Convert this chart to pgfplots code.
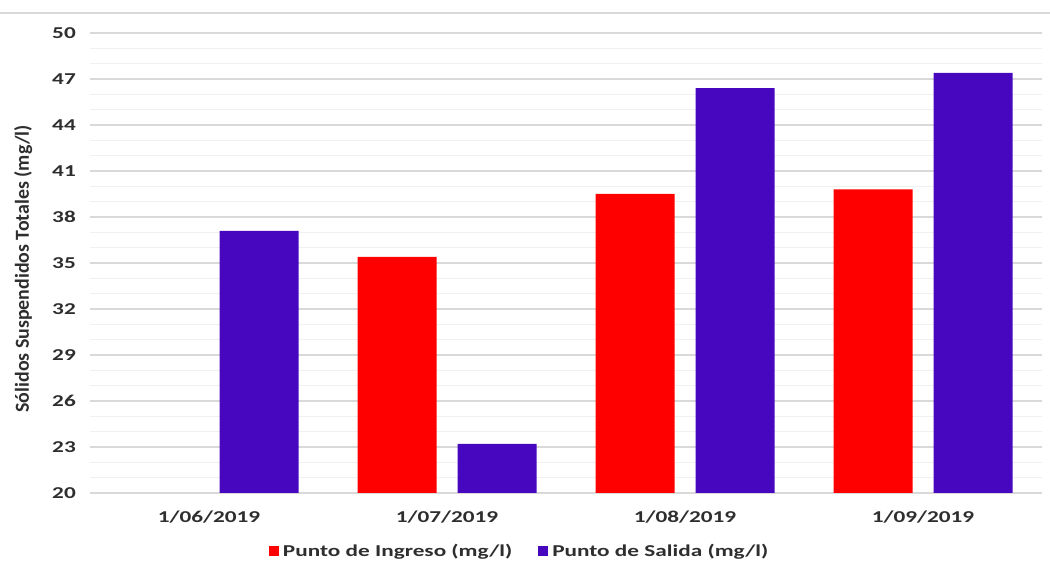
\documentclass[border=0pt]{standalone}
\usepackage{fontspec}
\setmainfont{Carlito}[FakeStretch=1.4]
\newfontfamily\ylabfont{Carlito}
\usepackage{pgfplots}
\pgfplotsset{compat=1.18}
\definecolor{ingreso}{HTML}{FF0000}
\definecolor{salida}{HTML}{4607BF}
\definecolor{txt}{HTML}{2E2E2E}
\definecolor{majgrid}{HTML}{D9D9D9}
\definecolor{mingrid}{HTML}{F0F0F0}
\begin{document}
\begin{tikzpicture}
\path[use as bounding box] (-90bp,-70bp) rectangle (960bp,493bp);
\begin{axis}[
  scale only axis, width=952bp, height=460bp,
  at={(0,0)}, anchor=south west,
  ymin=20, ymax=50, ytick={20,23,...,50}, minor y tick num=2,
  xmin=-0.5, xmax=3.5, xtick={0,1,2,3},
  xticklabels={1/06/2019,1/07/2019,1/08/2019,1/09/2019},
  ymajorgrids, yminorgrids,
  major grid style={majgrid, line width=1.3bp},
  minor grid style={mingrid, line width=1bp},
  axis line style={draw=none},
  tick style={draw=none},
  /pgf/number format/assume math mode=true,
  yticklabel style={font=\bfseries\fontsize{16.6bp}{20bp}\selectfont, text=txt, anchor=base east, inner sep=0pt, xshift=-14bp, yshift=-5.4bp},
  xticklabel style={font=\bfseries\fontsize{16.6bp}{20bp}\selectfont, text=txt, anchor=base, inner sep=0pt, yshift=-29.5bp},
  ylabel={Sólidos Suspendidos Totales (mg/l)},
  ylabel style={at={(rel axis cs:-0.0641,0.487)}, anchor=base, rotate=0, inner sep=0pt, font=\ylabfont\bfseries\fontsize{19.9bp}{22bp}\selectfont, text=txt},
  legend image code/.code={\fill[#1] (0bp,-4.5bp) rectangle (10bp,5bp);},
  legend columns=2,
  legend style={draw=none, fill=none, inner sep=0pt, outer sep=0pt,
    at={(rel axis cs:0.188,-0.127)}, anchor=west,
    font=\bfseries\fontsize{16.6bp}{20bp}\selectfont, text=txt,
    nodes={inner sep=0pt},
    /tikz/every odd column/.append style={column sep=4bp},
    /tikz/every even column/.append style={column sep=26bp}},
  legend cell align=left,
]
\addplot[ybar, bar width=79bp, bar shift=-50bp, fill=ingreso, draw=none]
  coordinates {(1,35.4) (2,39.5) (3,39.8)};
\addlegendentry{Punto de Ingreso (mg/l)}
\addplot[ybar, bar width=79bp, bar shift=50bp, fill=salida, draw=none]
  coordinates {(0,37.1) (1,23.2) (2,46.4) (3,47.4)};
\addlegendentry{Punto de Salida (mg/l)}
\end{axis}
\draw[majgrid, line width=1.3bp] (-90bp,480bp) -- (960bp,480bp);
\end{tikzpicture}
\end{document}
